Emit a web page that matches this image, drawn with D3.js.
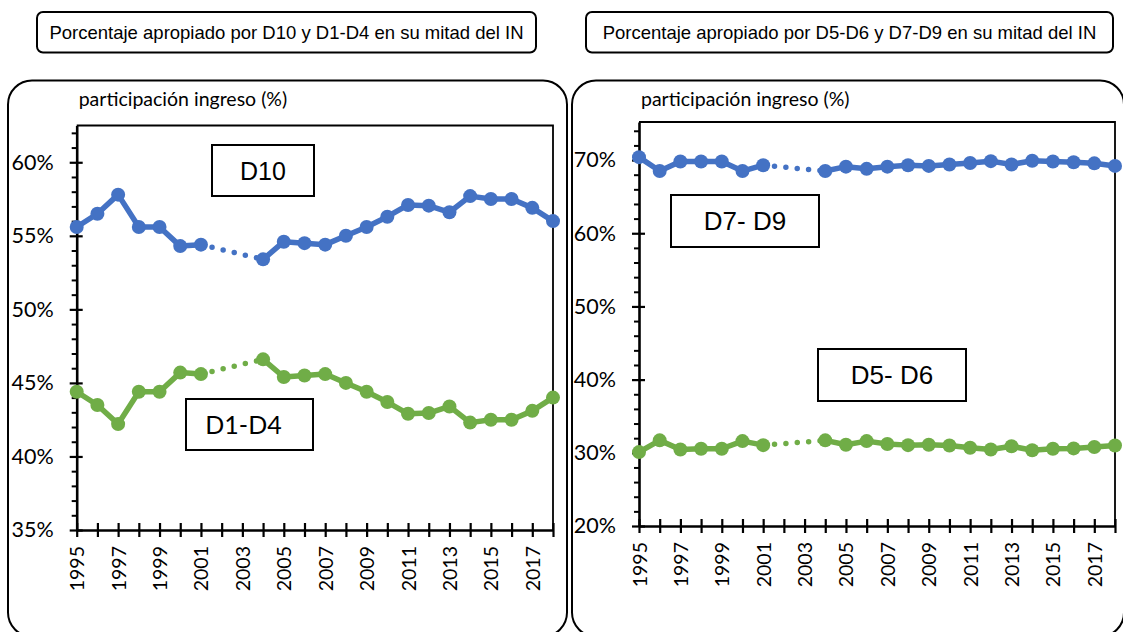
<!DOCTYPE html>
<html>
<head>
<meta charset="utf-8">
<script src="https://cdn.jsdelivr.net/npm/d3@7"></script>
<style>
  body { margin: 0; background: #fff; }
  svg { display: block; }
</style>
</head>
<body>
<svg id="chart" width="1123" height="632"></svg>
<script>
// años y series (participación en el ingreso, %)
const years = [1995, 1996, 1997, 1998, 1999, 2000, 2001, 2002, 2003, 2004, 2005, 2006,
  2007, 2008, 2009, 2010, 2011, 2012, 2013, 2014, 2015, 2016, 2017, 2018];
const yearLabels = [1995, 1997, 1999, 2001, 2003, 2005, 2007, 2009, 2011, 2013, 2015, 2017];

const d10 = [55.6, 56.5, 57.8, 55.6, 55.6, 54.3, 54.4, null, null, 53.4, 54.6, 54.5,
  54.4, 55.0, 55.6, 56.3, 57.1, 57.05, 56.6, 57.7, 57.5, 57.5, 56.9, 56.0];
const d1d4 = [44.4, 43.5, 42.2, 44.4, 44.4, 45.7, 45.6, null, null, 46.6, 45.4, 45.5,
  45.6, 45.0, 44.4, 43.7, 42.9, 42.95, 43.4, 42.3, 42.5, 42.5, 43.1, 44.0];
const d7d9 = [70.4, 68.5, 69.8, 69.8, 69.8, 68.5, 69.3, null, null, 68.5, 69.1, 68.8,
  69.1, 69.3, 69.2, 69.4, 69.6, 69.85, 69.4, 69.9, 69.8, 69.7, 69.55, 69.2];
const d5d6 = [30.1, 31.7, 30.45, 30.55, 30.55, 31.6, 31.05, null, null, 31.7, 31.1, 31.6,
  31.2, 31.05, 31.1, 31.0, 30.7, 30.45, 30.9, 30.35, 30.55, 30.6, 30.8, 31.0];

const leftMajor = [35, 40, 45, 50, 55, 60];
const leftMinor = [36, 37, 38, 39, 41, 42, 43, 44, 46, 47, 48, 49, 51, 52, 53, 54, 56, 57, 58, 59, 61, 62];
const rightMajor = [20, 30, 40, 50, 60, 70];
const rightMinor = [22, 24, 26, 28, 32, 34, 36, 38, 42, 44, 46, 48, 52, 54, 56, 58, 62, 64, 66, 68, 72, 74];

const titles = ["Porcentaje apropiado por D10 y D1-D4 en su mitad del IN",
  "Porcentaje apropiado por D5-D6 y D7-D9 en su mitad del IN"];
const axisTitle = "participación ingreso (%)";

const blue = "#4472C4";
const green = "#70AD47";
const labelFont = "Lato, 'Open Sans', sans-serif";
const arialFont = "'Liberation Sans', Arial, sans-serif";

const svg = d3.select("#chart");

// paneles redondeados y cajas de título
function panel(x, w, title, tx, tw) {
  svg.append("rect")
    .attr("x", x).attr("y", 80.5).attr("width", w).attr("height", 556)
    .attr("rx", 24).attr("fill", "none").attr("stroke", "#000").attr("stroke-width", 2);
  svg.append("rect")
    .attr("x", tx).attr("y", 12).attr("width", tw).attr("height", 40.5)
    .attr("rx", 6).attr("fill", "#fff").attr("stroke", "#000").attr("stroke-width", 2);
  svg.append("text")
    .attr("x", tx + tw / 2).attr("y", 39)
    .attr("text-anchor", "middle")
    .style("font-family", arialFont).style("font-size", "18.5px")
    .text(title);
}

panel(8, 559, titles[0], 37, 499);
panel(572, 552, titles[1], 586, 527);

function drawChart(cfg) {
  const x = d3.scaleLinear().domain([1995, 2018]).range([cfg.left, cfg.right]);
  const y = d3.scaleLinear().domain(cfg.domain).range([cfg.bottom, cfg.top]);
  const g = svg.append("g");

  // marco superior y derecho
  g.append("path")
    .attr("d", `M${cfg.left},${cfg.top}H${cfg.right}V${cfg.bottom}`)
    .attr("fill", "none").attr("stroke", "#000").attr("stroke-width", 1.8);

  g.append("text")
    .attr("x", cfg.left + 2).attr("y", 106)
    .style("font-family", labelFont).style("font-size", "19.5px")
    .text(axisTitle);

  // eje Y: marcas menores y mayores
  const yMinor = g.append("g")
    .attr("transform", `translate(${cfg.left},0)`)
    .call(d3.axisLeft(y).tickValues(cfg.minor).tickSize(5).tickFormat(""));
  yMinor.select(".domain").remove();
  yMinor.selectAll(".tick line").attr("stroke-width", 2);

  const yAxis = g.append("g")
    .attr("transform", `translate(${cfg.left},0)`)
    .call(d3.axisLeft(y).tickValues(cfg.major).tickSize(7).tickSizeOuter(0)
      .tickFormat(d => d + "%"));
  yAxis.select(".domain").attr("stroke-width", 2.6);
  yAxis.selectAll(".tick line").attr("x1", 6).attr("stroke-width", 2.2);
  yAxis.selectAll(".tick text")
    .attr("x", -23)
    .style("font-family", labelFont).style("font-size", "21.5px").attr("fill", "#000");

  // eje X
  const xAxis = g.append("g")
    .attr("transform", `translate(0,${cfg.bottom})`)
    .call(d3.axisBottom(x).tickValues(years).tickSize(7).tickSizeOuter(0)
      .tickFormat(d => yearLabels.includes(d) ? String(d) : ""));
  xAxis.select(".domain").attr("stroke-width", 2.6);
  xAxis.selectAll(".tick line").attr("y1", -7).attr("stroke-width", 2.2);
  xAxis.selectAll(".tick text")
    .attr("transform", "rotate(-90)")
    .attr("text-anchor", "end")
    .attr("x", -16).attr("y", 0).attr("dy", "0.36em")
    .style("font-family", labelFont).style("font-size", "19.5px").attr("fill", "#000");

  // series
  cfg.series.forEach(s => {
    const pts = years.map((yr, i) => ({ yr, v: s.values[i] }));
    const line = d3.line()
      .defined(d => d.v !== null)
      .x(d => x(d.yr)).y(d => y(d.v));
    g.append("path")
      .datum(pts)
      .attr("d", line)
      .attr("fill", "none").attr("stroke", s.color)
      .attr("stroke-width", 5.5).attr("stroke-linejoin", "round");

    // tramo punteado sobre los años sin dato
    const gapStart = pts.findIndex(d => d.v === null) - 1;
    const gapEnd = pts.findIndex((d, i) => i > gapStart + 1 && d.v !== null);
    g.append("path")
      .datum([pts[gapStart], pts[gapEnd]])
      .attr("d", d3.line().x(d => x(d.yr)).y(d => y(d.v)))
      .attr("fill", "none").attr("stroke", s.color)
      .attr("stroke-width", 5.5).attr("stroke-linecap", "round")
      .attr("stroke-dasharray", "0 11.4");

    g.selectAll(null)
      .data(pts.filter(d => d.v !== null))
      .enter().append("circle")
      .attr("cx", d => x(d.yr)).attr("cy", d => y(d.v))
      .attr("r", 7).attr("fill", s.color);
  });

  // cajas de etiqueta
  cfg.boxes.forEach(b => {
    g.append("rect")
      .attr("x", b.x).attr("y", b.y).attr("width", b.w).attr("height", b.h)
      .attr("fill", "#fff").attr("stroke", "#000").attr("stroke-width", 2);
    g.append("text")
      .attr("x", b.x + b.w / 2 + b.dx).attr("y", b.y + b.h / 2)
      .attr("dy", "0.36em").attr("text-anchor", "middle")
      .style("font-family", b.font).style("font-size", b.size + "px")
      .text(b.text);
  });
}

drawChart({
  left: 76.7, right: 553, top: 125.5, bottom: 530,
  domain: [35, 62.5], major: leftMajor, minor: leftMinor,
  series: [{ values: d10, color: blue }, { values: d1d4, color: green }],
  boxes: [
    { text: "D10", x: 212, y: 145, w: 102, h: 51, font: arialFont, size: 25, dx: 0 },
    { text: "D1-D4", x: 186, y: 399, w: 127, h: 51, font: labelFont, size: 25, dx: -6 }
  ]
});

drawChart({
  left: 639, right: 1115, top: 122, bottom: 526,
  domain: [20, 75.2], major: rightMajor, minor: rightMinor,
  series: [{ values: d7d9, color: blue }, { values: d5d6, color: green }],
  boxes: [
    { text: "D7- D9", x: 671, y: 195, w: 148, h: 52, font: arialFont, size: 26, dx: 0 },
    { text: "D5- D6", x: 818, y: 349, w: 148, h: 52, font: arialFont, size: 26, dx: 0 }
  ]
});
</script>
</body>
</html>
